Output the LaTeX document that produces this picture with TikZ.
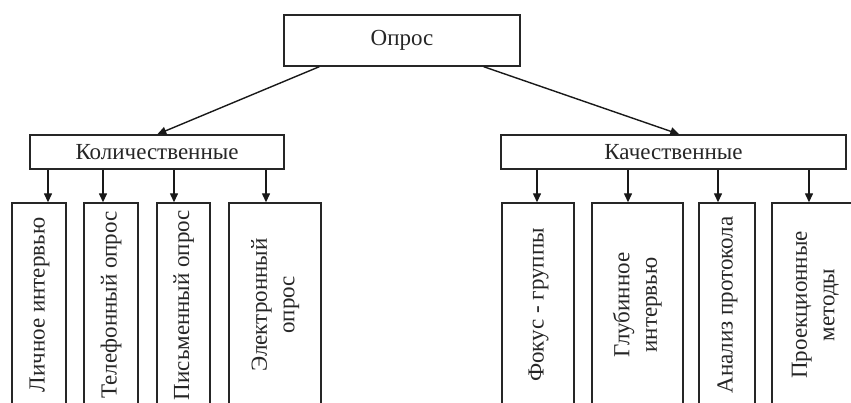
\documentclass[tikz,border=0pt]{standalone}
\usepackage{fontspec}
\setmainfont{Liberation Serif}
\usetikzlibrary{arrows.meta}
\begin{document}
\begin{tikzpicture}[x=1pt,y=-1pt,
  box/.style={draw=black!85, line width=1.4pt, rectangle, inner sep=0pt, text=black!85,
    font=\fontsize{23}{27.5}\selectfont},
  leaf/.style={box, minimum height=204pt},
  arr/.style={draw=black!90, line width=1.4pt, -{Triangle[length=9pt,width=8pt]}}]
\clip (0,0) rectangle (851,403);
\fill[white] (0,0) rectangle (851,403);
% top
\node[box, minimum width=236pt, minimum height=51pt] (top) at (402,40.5) {Опрос};
\node[box, minimum width=254pt, minimum height=34pt] (kol) at (157,152) {Количественные};
\node[box, minimum width=345pt, minimum height=34pt] (kach) at (673.5,152) {Качественные};
\draw[arr] ([xshift=36pt]top.south west) -- ([xshift=128pt]kol.north west);
\draw[arr] ([xshift=-37pt]top.south east) -- ([xshift=179pt]kach.north west);
% left leaves
\node[leaf, minimum width=54pt] (l1) at (39,305) {\rotatebox{90}{\begin{tabular}{@{}c@{}}Личное интервью\end{tabular}}};
\node[leaf, minimum width=54pt] (l2) at (111,305) {\rotatebox{90}{\begin{tabular}{@{}c@{}}Телефонный опрос\end{tabular}}};
\node[leaf, minimum width=53pt] (l3) at (183.5,305) {\rotatebox{90}{\begin{tabular}{@{}c@{}}Письменный опрос\end{tabular}}};
\node[leaf, minimum width=92pt] (l4) at (275,305) {\rotatebox{90}{\begin{tabular}{@{}c@{}}Электронный\\ опрос\end{tabular}}};
% right leaves
\node[leaf, minimum width=72pt] (r1) at (538,305) {\rotatebox{90}{\begin{tabular}{@{}c@{}}Фокус - группы\end{tabular}}};
\node[leaf, minimum width=91pt] (r2) at (637.5,305) {\rotatebox{90}{\begin{tabular}{@{}c@{}}Глубинное\\ интервью\end{tabular}}};
\node[leaf, minimum width=56pt] (r3) at (727,305) {\rotatebox{90}{\begin{tabular}{@{}c@{}}Анализ протокола\end{tabular}}};
\node[leaf, minimum width=86pt] (r4) at (815,305) {\rotatebox{90}{\begin{tabular}{@{}c@{}}Проекционные\\ методы\end{tabular}}};
% arrow x positions
\coordinate (a1) at (48,0);
\coordinate (a2) at (103,0);
\coordinate (a3) at (174,0);
\coordinate (a4) at (266,0);
\coordinate (b1) at (537,0);
\coordinate (b2) at (628,0);
\coordinate (b3) at (718,0);
\coordinate (b4) at (809,0);
\draw[arr] (kol.south -| a1) -- (l1.north -| a1);
\draw[arr] (kol.south -| a2) -- (l2.north -| a2);
\draw[arr] (kol.south -| a3) -- (l3.north -| a3);
\draw[arr] (kol.south -| a4) -- (l4.north -| a4);
\draw[arr] (kach.south -| b1) -- (r1.north -| b1);
\draw[arr] (kach.south -| b2) -- (r2.north -| b2);
\draw[arr] (kach.south -| b3) -- (r3.north -| b3);
\draw[arr] (kach.south -| b4) -- (r4.north -| b4);
\end{tikzpicture}
\end{document}
